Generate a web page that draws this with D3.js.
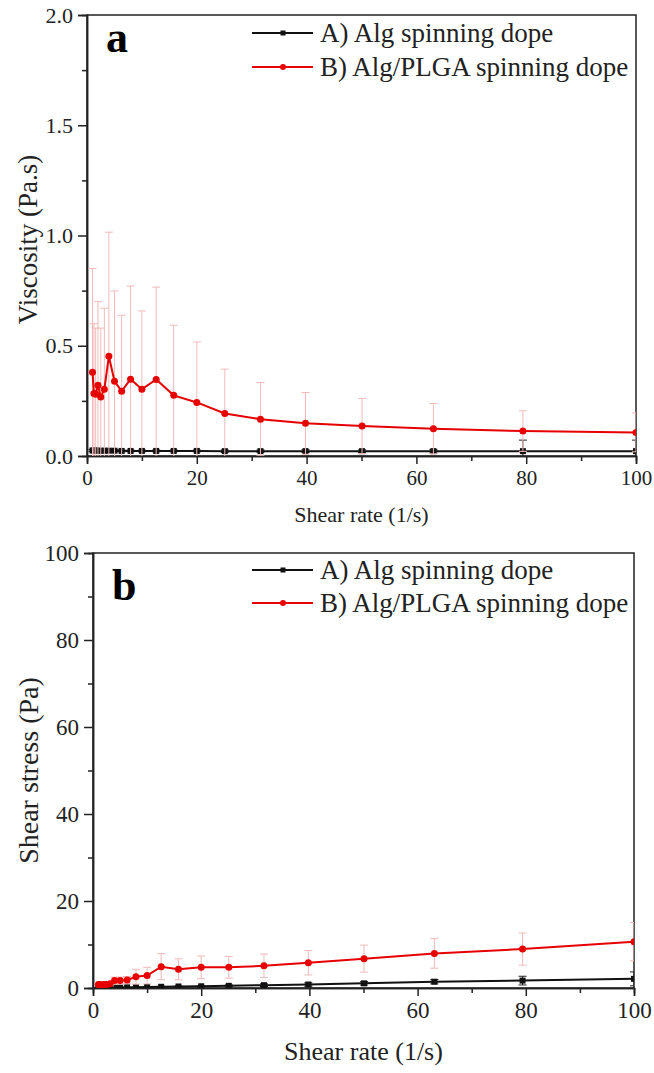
<!DOCTYPE html>
<html>
<head>
<meta charset="utf-8">
<script src="https://cdn.jsdelivr.net/npm/d3@7"></script>
<style>
  body { margin: 0; background: #fff; }
  svg { font-family: "Liberation Serif", "Times New Roman", serif; }
</style>
</head>
<body>
<svg id="chart" width="654" height="1073"></svg>
<script>
// shear rate steps (1/s), log spaced
const shearRate = [1, 1.26, 1.58, 2, 2.51, 3.16, 3.98, 5.01, 6.31, 7.94, 10, 12.6, 15.8, 20, 25.1, 31.6, 39.8, 50.1, 63.1, 79.4, 100];

// viscosity (Pa.s)
const viscAlg = [0.025, 0.025, 0.025, 0.024, 0.024, 0.024, 0.024, 0.024, 0.023, 0.023, 0.023, 0.023, 0.023, 0.023, 0.022, 0.022, 0.022, 0.022, 0.022, 0.022, 0.022];
const viscAlgErr = [0.004, 0.004, 0.004, 0.004, 0.004, 0.004, 0.004, 0.004, 0.004, 0.004, 0.004, 0.004, 0.004, 0.004, 0.005, 0.005, 0.006, 0.006, 0.008, 0.05, 0.05];
const viscPlga = [0.38, 0.284, 0.28, 0.321, 0.268, 0.303, 0.452, 0.339, 0.294, 0.348, 0.303, 0.347, 0.275, 0.243, 0.193, 0.167, 0.148, 0.136, 0.124, 0.113, 0.107];
const viscPlgaErr = [0.47, 0.316, 0.30, 0.379, 0.312, 0.367, 0.563, 0.409, 0.344, 0.423, 0.355, 0.419, 0.318, 0.274, 0.201, 0.166, 0.14, 0.125, 0.114, 0.092, 0.088];

// shear stress (Pa)
const stressAlg = [0.03, 0.03, 0.04, 0.05, 0.06, 0.08, 0.09, 0.11, 0.14, 0.18, 0.22, 0.28, 0.35, 0.4, 0.5, 0.65, 0.8, 1.07, 1.45, 1.7, 2.1];
const stressAlgErr = [0.02, 0.02, 0.02, 0.02, 0.02, 0.03, 0.03, 0.03, 0.04, 0.05, 0.06, 0.08, 0.1, 0.12, 0.2, 0.3, 0.4, 0.4, 0.5, 1.0, 1.6];
const stressPlga = [0.8, 0.8, 0.7, 0.8, 0.8, 1.0, 1.7, 1.7, 1.85, 2.6, 2.85, 4.9, 4.3, 4.75, 4.75, 5.1, 5.8, 6.75, 7.95, 8.95, 10.65];
const stressPlgaErr = [0.3, 0.3, 0.3, 0.4, 0.4, 0.5, 0.8, 0.8, 0.8, 1.7, 1.9, 3.0, 2.4, 2.6, 2.5, 2.7, 2.8, 3.1, 3.4, 3.7, 4.4];

const seriesNames = ["A) Alg spinning dope", "B) Alg/PLGA spinning dope"];

const svg = d3.select("#chart");

function drawPanel(cfg) {
  const g = svg.append("g");
  const x = d3.scaleLinear().domain([0, 100]).range([cfg.left, cfg.right]);
  const y = d3.scaleLinear().domain(cfg.yDomain).range([cfg.bottom, cfg.top]);

  const clipId = "clip-" + cfg.letter;
  svg.append("clipPath").attr("id", clipId)
    .append("rect")
    .attr("x", cfg.left).attr("y", cfg.top)
    .attr("width", cfg.right - cfg.left).attr("height", cfg.bottom - cfg.top);

  // frame
  g.append("rect")
    .attr("x", cfg.left).attr("y", cfg.top)
    .attr("width", cfg.right - cfg.left).attr("height", cfg.bottom - cfg.top)
    .attr("fill", "none").attr("stroke", "#222").attr("stroke-width", 1.5);

  // x axis
  const xAx = g.append("g").attr("transform", `translate(0,${cfg.bottom})`)
    .call(d3.axisBottom(x).tickValues([0, 20, 40, 60, 80, 100]).tickSize(8).tickPadding(6).tickFormat(d3.format("d")));
  g.append("g").attr("transform", `translate(0,${cfg.bottom})`)
    .call(d3.axisBottom(x).tickValues([10, 30, 50, 70, 90]).tickSize(5).tickFormat(""));

  // y axis
  const yAx = g.append("g").attr("transform", `translate(${cfg.left},0)`)
    .call(d3.axisLeft(y).tickValues(cfg.yTicks).tickSize(9).tickPadding(5).tickFormat(cfg.yFormat));
  g.append("g").attr("transform", `translate(${cfg.left},0)`)
    .call(d3.axisLeft(y).tickValues(cfg.yMinor).tickSize(5).tickFormat(""));

  g.selectAll(".domain").attr("stroke", "#222").attr("stroke-width", 1.5);
  g.selectAll(".tick line").attr("stroke", "#222").attr("stroke-width", 1.5);
  xAx.selectAll("text").attr("font-size", cfg.xTickSize).attr("fill", "#222")
    .attr("font-family", "Liberation Serif");
  yAx.selectAll("text").attr("font-size", cfg.yTickSize).attr("fill", "#222")
    .attr("font-family", "Liberation Serif");

  // titles
  g.append("text")
    .attr("x", (cfg.left + cfg.right) / 2).attr("y", cfg.xTitleY)
    .attr("text-anchor", "middle").attr("font-size", cfg.xTitleSize).attr("fill", "#222")
    .text("Shear rate (1/s)");
  g.append("text")
    .attr("transform", `translate(${cfg.yTitleX},${(cfg.top + cfg.bottom) / 2 + cfg.yTitleShift}) rotate(-90)`)
    .attr("text-anchor", "middle").attr("font-size", cfg.yTitleSize).attr("fill", "#222")
    .text(cfg.yTitle);

  // panel letter
  g.append("text")
    .attr("x", cfg.left + 19).attr("y", cfg.letterY)
    .attr("font-size", 44).attr("font-weight", "bold").attr("fill", "#000")
    .text(cfg.letter);

  const plot = g.append("g").attr("clip-path", `url(#${clipId})`);

  const series = [
    { vals: cfg.alg, errs: cfg.algErr, color: "#111", errColor: "#222", marker: "square" },
    { vals: cfg.plga, errs: cfg.plgaErr, color: "#e60000", errColor: "#f3b9b9", marker: "circle" }
  ];

  series.forEach(s => {
    const pts = shearRate.map((r, i) => ({ r, v: s.vals[i], e: s.errs[i] }));
    // error bars
    const eb = plot.append("g").attr("stroke", s.errColor).attr("stroke-width", 1).attr("fill", "none");
    pts.forEach(p => {
      const cx = x(p.r);
      const y1 = y(p.v + p.e), y0 = y(p.v - p.e);
      eb.append("line").attr("x1", cx).attr("x2", cx).attr("y1", y1).attr("y2", y0);
      eb.append("line").attr("x1", cx - 4).attr("x2", cx + 4).attr("y1", y1).attr("y2", y1);
      eb.append("line").attr("x1", cx - 4).attr("x2", cx + 4).attr("y1", y0).attr("y2", y0);
    });
    plot.append("path")
      .datum(pts)
      .attr("fill", "none").attr("stroke", s.color).attr("stroke-width", 2)
      .attr("d", d3.line().x(p => x(p.r)).y(p => y(p.v)));
    if (s.marker === "circle") {
      plot.append("g").selectAll("circle").data(pts).join("circle")
        .attr("cx", p => x(p.r)).attr("cy", p => y(p.v)).attr("r", 3.5).attr("fill", s.color);
    } else {
      plot.append("g").selectAll("rect").data(pts).join("rect")
        .attr("x", p => x(p.r) - 3).attr("y", p => y(p.v) - 3)
        .attr("width", 6).attr("height", 6).attr("fill", s.color);
    }
  });

  // legend
  const leg = g.append("g");
  series.forEach((s, i) => {
    const ly = cfg.legendY + i * cfg.legendGap;
    leg.append("line").attr("x1", 252).attr("x2", 313).attr("y1", ly).attr("y2", ly)
      .attr("stroke", s.color).attr("stroke-width", 2);
    if (s.marker === "circle") {
      leg.append("circle").attr("cx", 283).attr("cy", ly).attr("r", 3).attr("fill", s.color);
    } else {
      leg.append("rect").attr("x", 280.5).attr("y", ly - 2.5).attr("width", 5).attr("height", 5).attr("fill", s.color);
    }
    leg.append("text").attr("x", 320).attr("y", ly).attr("dy", "0.33em")
      .attr("font-size", 27).attr("fill", "#222").text(seriesNames[i]);
  });
}

drawPanel({
  letter: "a", left: 87, right: 636, top: 15, bottom: 456,
  yDomain: [0, 2], yTicks: [0, 0.5, 1, 1.5, 2], yMinor: [0.25, 0.75, 1.25, 1.75],
  yFormat: d3.format(".1f"), yTitle: "Viscosity (Pa.s)",
  alg: viscAlg, algErr: viscAlgErr, plga: viscPlga, plgaErr: viscPlgaErr,
  xTickSize: 21, yTickSize: 22, xTitleSize: 22, yTitleSize: 27,
  xTitleY: 522, yTitleX: 37, yTitleShift: 4, letterY: 52,
  legendY: 33, legendGap: 34
});

drawPanel({
  letter: "b", left: 93, right: 634, top: 553, bottom: 988,
  yDomain: [0, 100], yTicks: [0, 20, 40, 60, 80, 100], yMinor: [10, 30, 50, 70, 90],
  yFormat: d3.format("d"), yTitle: "Shear stress (Pa)",
  alg: stressAlg, algErr: stressAlgErr, plga: stressPlga, plgaErr: stressPlgaErr,
  xTickSize: 23, yTickSize: 23, xTitleSize: 26, yTitleSize: 28,
  xTitleY: 1060, yTitleX: 38, yTitleShift: 0, letterY: 600,
  legendY: 570, legendGap: 33
});
</script>
</body>
</html>
